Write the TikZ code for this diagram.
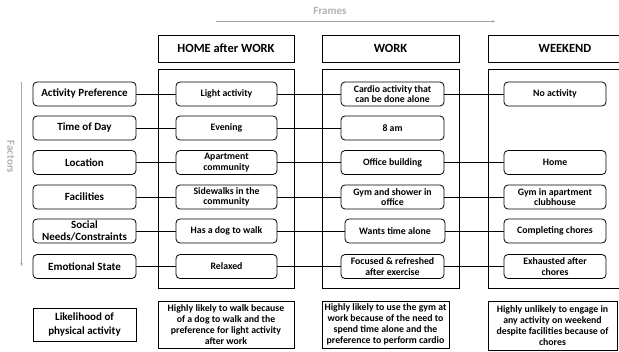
\documentclass[tikz,border=0pt]{standalone}
\usepackage{fontspec}
\setmainfont{Carlito}
\usetikzlibrary{arrows.meta}
\begin{document}
\begin{tikzpicture}[x=1pt,y=-1pt,
  cell/.style={draw,rounded corners=4pt,line width=0.8pt,minimum height=24pt,align=center,font=\fontsize{9.8}{10.6}\selectfont\bfseries,inner xsep=1pt,inner ysep=0pt},
  fbox/.style={cell,minimum width=103pt,font=\fontsize{11}{11.6}\selectfont\bfseries},
  hdr/.style={draw,line width=0.8pt,minimum height=27pt,minimum width=136pt,font=\fontsize{12.5}{14}\selectfont\bfseries},
  frm/.style={draw,line width=0.8pt},
  res/.style={draw,line width=0.8pt,align=center,font=\fontsize{9.8}{11.2}\selectfont\bfseries,inner sep=0pt},
  conn/.style={line width=0.7pt},
  guide/.style={draw=gray!70,line width=0.6pt,-{Stealth[length=3pt,width=2.5pt]}},
  glabel/.style={text=gray!60,font=\fontsize{11}{12}\selectfont\bfseries}]
\clip (0,0) rectangle (619,352);
\fill[white] (0,0) rectangle (619,352);
% guides
\coordinate (fa) at (216,21.5);
\coordinate (fb) at (495,21.5);
\draw[guide] (fa) -- (fb);
\node[glabel] (frames) at (330,11) {Frames};
\coordinate (va) at (21.5,82);
\coordinate (vb) at (21.5,266);
\draw[guide] (va) -- (vb);
\node[glabel,rotate=-90] (factors) at (11,157) {Factors};
% headers
\node[hdr] (hhome) at (226,48.5) {HOME after WORK};
\node[hdr,minimum width=137pt] (hwork) at (390.5,48.5) {WORK};
\node[hdr,minimum width=154pt] (hweek) at (565,48.5) {WEEKEND};
% frames
\draw[frm] (158,69) rectangle (294,288);
\draw[frm] (322,69) rectangle (459,288);
\draw[frm] (488,69) rectangle (640,288);
% factor boxes
\foreach \n/\y/\t in {f1/94/Activity Preference,f2/128/Time of Day,f3/162.5/Location,f4/197/Facilities,f5/231/{Social\\Needs/Constraints},f6/266.5/Emotional State}
  \node[fbox] (\n) at (84.5,\y) {\t};
% home cells
\foreach \n/\y/\t in {h1/94/Light activity,h2/128/Evening,h3/162.5/{Apartment\\community},h4/197/{Sidewalks in the\\community},h5/231/Has a dog to walk,h6/266.5/Relaxed}
  \node[cell,minimum width=101pt] (\n) at (226.5,\y) {\t};
% work cells
\foreach \n/\y/\t in {w1/94/{Cardio activity that\\can be done alone},w2/128/8 am,w3/162.5/Office building,w4/197/{Gym and shower in\\office},w6/266.5/{Focused \& refreshed\\after exercise}}
  \node[cell,minimum width=103pt] (\n) at (392.5,\y) {\t};
\node[cell,minimum width=100pt] (w5) at (395,231) {Wants time alone};
% weekend cells
\foreach \n/\y/\t in {e1/94/No activity,e3/162.5/Home,e4/197/{Gym in apartment\\clubhouse},e5/231/Completing chores,e6/266.5/{Exhausted after\\chores}}
  \node[cell,minimum width=102pt] (\n) at (555,\y) {\t};
% connectors
\foreach \i in {1,...,6} {
  \draw[conn] (f\i) -- (h\i);
  \draw[conn] (h\i) -- (w\i);
}
\foreach \i in {1,3,4,5,6}
  \draw[conn] (w\i) -- (e\i);
% results
\node[res,minimum width=103pt,minimum height=33pt,font=\fontsize{11}{13.5}\selectfont\bfseries] (lik) at (84.5,324.5) {Likelihood of\\physical activity};
\node[res,minimum width=136pt,minimum height=47pt] (rhome) at (226,324.5) {Highly likely to walk because\\of a dog to walk and the\\preference for light activity\\after work};
\node[res,minimum width=127pt,minimum height=47pt] (rwork) at (385.5,324.5) {Highly likely to use the gym at\\work because of the need to\\spend time alone and the\\preference to perform cardio};
\node[res,minimum width=129pt,minimum height=49pt] (rweek) at (552.5,325.5) {Highly unlikely to engage in\\any activity on weekend\\despite facilities because of\\chores};
\end{tikzpicture}
\end{document}
